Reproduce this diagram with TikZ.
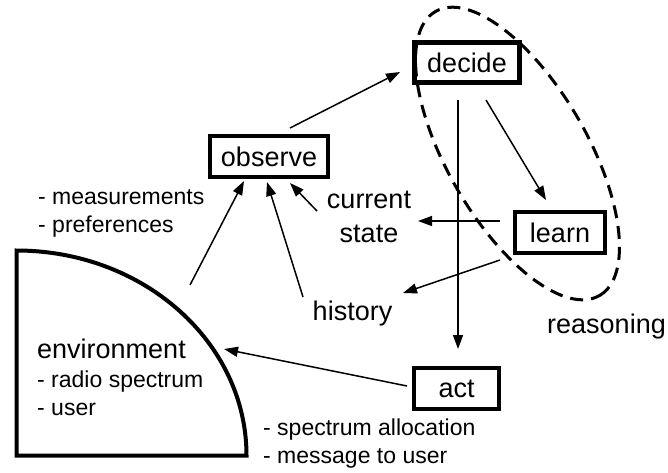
\documentclass[tikz,border=0pt]{standalone}
\usepackage{fontspec}
\setmainfont{Liberation Sans}
\usetikzlibrary{arrows.meta}
\begin{document}
\begin{tikzpicture}[x=1pt,y=-1pt,
  box/.style={draw, line width=4.5pt, inner sep=0pt, font=\fontsize{27}{32}\selectfont},
  lbl/.style={font=\fontsize{27}{34}\selectfont, inner sep=0pt},
  sub/.style={font=\fontsize{23}{28}\selectfont, inner sep=0pt, align=left},
  arr/.style={line width=1.5pt, -{Triangle[length=14pt,width=10pt]}},
  region/.style={draw, line width=3pt, dash pattern=on 13pt off 8pt},
]
\useasboundingbox (0,0) rectangle (668,472);

% boxes
\node[box, minimum width=118pt, minimum height=41pt] (observe) at (269,156.5) {observe};
\node[box, minimum width=105pt, minimum height=40pt] (decide) at (467,62.5) {decide};
\node[box, minimum width=90pt, minimum height=41pt] (learn) at (560,232.5) {learn};
\node[box, minimum width=85pt, minimum height=41pt] (act) at (456.5,388.5) {act};

% environment shape
\draw[line width=4pt] (16.5,455.5) -- (16.5,250.5)
  arc[start angle=90, end angle=0, x radius=230pt, y radius=205pt] -- cycle;
\node[lbl, anchor=base west] (env) at (37,358) {environment};
\node[sub, anchor=base west] (envsub) at (37,415) {- radio spectrum\\- user};

% reasoning region
\draw[region, rotate around={-60:(517.5,153.5)}] (517.5,153.5) ellipse [x radius=164pt, y radius=70pt];
\node[lbl, anchor=base] (reasoning) at (606.5,333) {reasoning};

% labels
\node[sub, anchor=base west] (meas) at (38,232) {- measurements\\- preferences};
\node[lbl, anchor=base, align=center] (cstate) at (369,242) {current\\state};
\node[lbl, anchor=base] (history) at (352.5,320) {history};
\node[sub, anchor=base west] (actsub) at (263,463) {- spectrum allocation\\- message to user};

% connector end points
\coordinate (o1) at (290,128);   \coordinate (d1) at (400,72);
\coordinate (d2) at (486,100);   \coordinate (l1) at (546,200);
\coordinate (d3) at (458,100);   \coordinate (a1) at (458,349);
\coordinate (l2) at (500,221);   \coordinate (c1) at (418,221);
\coordinate (l3) at (500,260);   \coordinate (h1) at (403,293);
\coordinate (a2) at (407,386);   \coordinate (e1) at (224,349);
\coordinate (e2) at (190,285);   \coordinate (o2) at (244,181);
\coordinate (h2) at (303,297);   \coordinate (o3) at (267,182);
\coordinate (c2) at (317,211);   \coordinate (o4) at (290,183);

\draw[arr] (o1) -- (d1);
\draw[arr] (d2) -- (l1);
\draw[arr] (d3) -- (a1);
\draw[arr] (l2) -- (c1);
\draw[arr] (l3) -- (h1);
\draw[arr] (a2) -- (e1);
\draw[arr] (e2) -- (o2);
\draw[arr] (h2) -- (o3);
\draw[arr] (c2) -- (o4);
\end{tikzpicture}
\end{document}
